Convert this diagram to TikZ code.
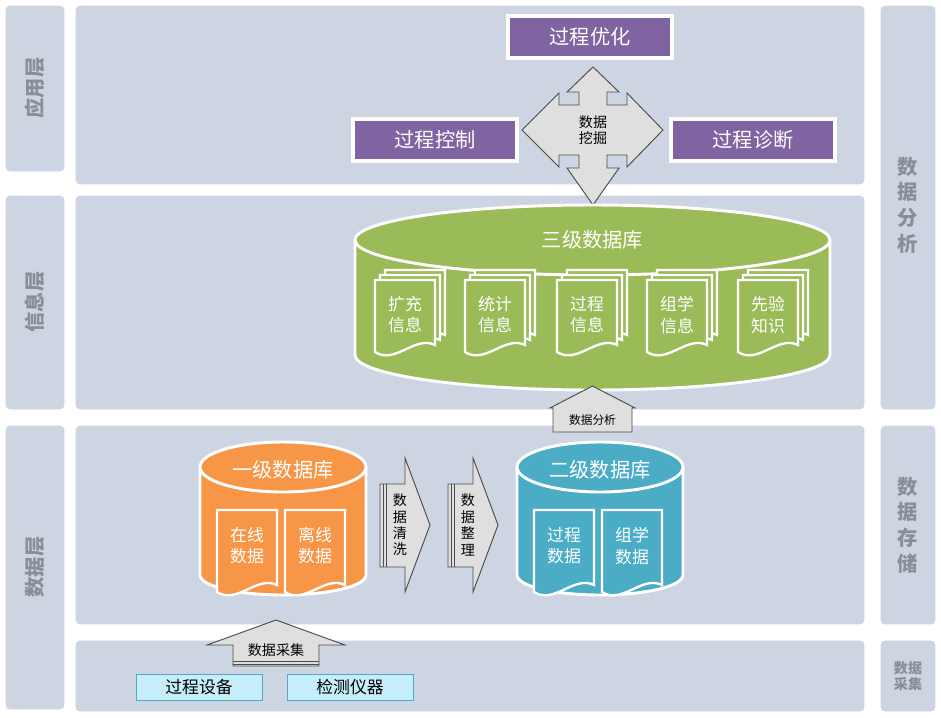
\documentclass[tikz,border=0pt]{standalone}
\usepackage{fontspec}
\setmainfont{Noto Sans CJK SC}
\usetikzlibrary{shapes.arrows,positioning,calc}
\definecolor{band}{HTML}{CDD4E2}
\definecolor{bandtxt}{HTML}{8A8E96}
\definecolor{purp}{HTML}{8064A2}
\definecolor{grn}{HTML}{9BBB59}
\definecolor{org}{HTML}{F79646}
\definecolor{blu}{HTML}{4BACC6}
\definecolor{cyanbox}{HTML}{C6EEFA}

\begin{document}
\begin{tikzpicture}[
        x=0.03cm, y=-0.03cm,
        bandbox/.style={fill=band, draw=white, line width=1pt, rounded corners=4pt},
        bandlabel/.style={text=bandtxt, font=\bfseries\LARGE},
        purpbox/.style={fill=purp, draw=white, line width=3pt, text=white, font=\LARGE, minimum width=140pt, minimum height=36pt},
        greyarrow/.style={fill=gray!25, draw=black!70, thick},
        docpage/.style={draw=white, line width=2pt},
        dbtop/.style={draw=white, line width=2.5pt},
        srcbox/.style={fill=cyanbox, draw=blu, text=black, font=\Large, minimum width=108pt, minimum height=22pt},
    ]
    \useasboundingbox (0,0) rectangle (941,717);
    % layer bands
    \draw[bandbox] (5,5) rectangle (65,172);
    \draw[bandbox] (5,195) rectangle (65,410);
    \draw[bandbox] (5,425) rectangle (65,710);
    \draw[bandbox] (75,5) rectangle (865,185);
    \draw[bandbox] (75,195) rectangle (865,410);
    \draw[bandbox] (75,425) rectangle (865,625);
    \draw[bandbox] (75,640) rectangle (865,712);
    \draw[bandbox] (880,5) rectangle (936,410);
    \draw[bandbox] (880,425) rectangle (936,625);
    \draw[bandbox] (880,640) rectangle (936,712);
    \node[bandlabel, rotate=90] (lapp) at (35,88) {应用层};
    \node[bandlabel, rotate=90] (linfo) at (35,302) {信息层};
    \node[bandlabel, rotate=90] (ldata) at (35,567) {数据层};
    \node[bandlabel, align=center] (rana) at (908,205) {数\\据\\分\\析};
    \node[bandlabel, align=center] (rsto) at (908,525) {数\\据\\存\\储};
    \node[text=bandtxt, font=\bfseries\large, align=center] (racq) at (908,676) {数据\\采集};

    % application layer
    \node[purpbox] (opt) at (590,37) {过程优化};
    \node[purpbox] (ctl) at (435,140) {过程控制};
    \node[purpbox] (dia) at (753,140) {过程诊断};
    \draw[greyarrow] (593,67) -- (619,92) -- (607,92) -- (607,105) -- (627,105) -- (627,93) -- (663,130)
        -- (627,167) -- (627,155) -- (607,155) -- (607,168) -- (619,168) -- (593,205) -- (567,168)
        -- (579,168) -- (579,155) -- (559,155) -- (559,167) -- (522,130) -- (559,93) -- (559,105)
        -- (579,105) -- (579,92) -- (567,92) -- cycle;
    \node[font=\large, align=center] (mine) at (593,130) {数据\\挖掘};

    % information layer
    \fill[grn] (355,240) -- (355,355) arc[start angle=180, end angle=360, x radius=237.5, y radius=-35] -- (830,240) -- cycle;
    \draw[white, line width=2.5pt] (355,240) -- (355,355) arc[start angle=180, end angle=360, x radius=237.5, y radius=-35] -- (830,240);
    \draw[dbtop, fill=grn] (592.5,240) ellipse[x radius=237.5, y radius=35];
    \node[text=white, font=\LARGE] (db3) at (592.5,240) {三级数据库};
    \foreach \cx/\txt [count=\i] in {405/{扩充\\信息}, 495/{统计\\信息}, 587/{过程\\信息}, 677/{组学\\信息}, 768/{先验\\知识}}{
        \foreach \o in {10,5,0}{
            \draw[docpage, fill=grn] (\cx-30+\o,280-\o) -- (\cx+30+\o,280-\o) -- (\cx+30+\o,345-\o)
                .. controls (\cx+10+\o,335-\o) and (\cx-10+\o,365-\o) .. (\cx-30+\o,352-\o) -- cycle;
        }
        \node[text=white, font=\Large, align=center, inner sep=0pt] (inf\i) at (\cx,315) {\txt};
    }
    \draw[greyarrow] (553,432) -- (553,408) -- (550,408) -- (592.5,386) -- (635,408) -- (632,408) -- (632,432) -- cycle;
    \node[font=\normalsize] (ana) at (592.5,420) {数据分析};

    % data layer
    \foreach \x/\col/\txt/\nm in {200/org/一级数据库/db1, 517/blu/二级数据库/db2}{
        \fill[\col] (\x,467) -- (\x,575) arc[start angle=180, end angle=360, x radius=83, y radius=-20] -- (\x+166,467) -- cycle;
        \draw[white, line width=2.5pt] (\x,467) -- (\x,575) arc[start angle=180, end angle=360, x radius=83, y radius=-20] -- (\x+166,467);
        \draw[dbtop, fill=\col] (\x+83,467) ellipse[x radius=83, y radius=25];
        \node[text=white, font=\LARGE] (\nm) at (\x+83,470) {\txt};
    }
    \foreach \cx/\col/\txt [count=\i] in {247/org/{在线\\数据}, 315/org/{离线\\数据}, 564/blu/{过程\\数据}, 632/blu/{组学\\数据}}{
        \draw[docpage, fill=\col] (\cx-30,510) -- (\cx+30,510) -- (\cx+30,585)
            .. controls (\cx+10,575) and (\cx-10,605) .. (\cx-30,592) -- cycle;
        \node[text=white, font=\Large, align=center, inner sep=0pt] (dd\i) at (\cx,546) {\txt};
    }
    \foreach \x/\txt [count=\i] in {380/{数\\据\\清\\洗}, 448/{数\\据\\整\\理}}{
        \draw[greyarrow] (\x,484) -- (\x+25,484) -- (\x+25,458) -- (\x+50,525) -- (\x+25,592) -- (\x+25,567) -- (\x,567) -- cycle;
        \draw[black!70, thick] (\x+3,484) -- (\x+3,567) (\x+6,484) -- (\x+6,567);
        \node[font=\large, align=center, inner sep=0pt] (step\i) at (\x+20,525) {\txt};
    }

    % acquisition layer
    \draw[greyarrow] (233,666) -- (233,645) -- (207,645) -- (276,620) -- (345,645) -- (319,645) -- (319,666) -- cycle;
    \draw[black!70, thick] (233,661) -- (319,661) (233,664) -- (319,664);
    \node[font=\large] (acq) at (276,650) {数据采集};
    \node[srcbox] (dev) at (199,687) {过程设备};
    \node[srcbox] (ins) at (350,687) {检测仪器};
\end{tikzpicture}
\end{document}
